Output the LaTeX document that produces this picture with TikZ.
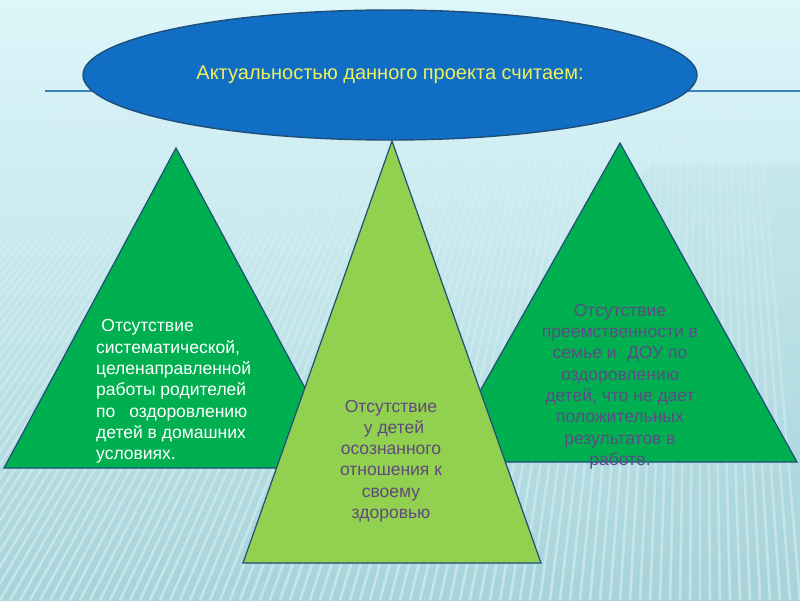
\documentclass[tikz,border=0pt]{standalone}
\usepackage{fontspec}
\setmainfont{Liberation Sans}
\usetikzlibrary{fadings,shapes.geometric}
\definecolor{bgtop}{HTML}{DDF6FA}
\definecolor{bgmid}{HTML}{D0EEF2}
\definecolor{bgbot}{HTML}{A6D4DA}
\definecolor{ellfill}{HTML}{106EC4}
\definecolor{edgeblue}{HTML}{1F4E79}
\definecolor{linblue}{HTML}{3A80C4}
\definecolor{dkgreen}{HTML}{00B050}
\definecolor{ltgreen}{HTML}{92D050}
\definecolor{ytext}{HTML}{F0F05A}
\definecolor{ptext}{HTML}{5F4B7B}
\definecolor{rtext}{HTML}{5E4A86}
\tikzset{
  tri/.style={draw=edgeblue, line width=1.2pt, line join=miter},
  bodytext/.style={inner sep=0pt, font=\fontsize{17.5}{21.3}\selectfont},
  stripe/.style={white, opacity=0.38, line width=2.6pt, path fading=north},
}
\begin{document}
\begin{tikzpicture}[x=1pt,y=-1pt]
\useasboundingbox (0,0) rectangle (800,600);
% background
\shade[top color=bgtop, middle color=bgmid, bottom color=bgbot] (0,0) rectangle (800,600);
\fill[bgbot, opacity=0.2, rounded corners=20pt] (640,165) rectangle (820,620);
\begin{scope}
\clip (0,40) rectangle (800,600);
\foreach \x in {-400,-390,...,800} {
  \draw[stripe] (\x,600) -- ({\x+(700-\x)*0.47},40);
}
\end{scope}
% horizontal line
\coordinate (hl) at (45,91);
\coordinate (hr) at (800,91);
\draw[linblue, line width=1.6pt] (hl) -- (hr);
% triangles
\coordinate (la) at (176,148);
\coordinate (lb) at (4,468);
\coordinate (lc) at (348,468);
\coordinate (ra) at (620,143);
\coordinate (rb) at (440,462);
\coordinate (rc) at (797,462);
\coordinate (ma) at (392,141);
\coordinate (mb) at (243,563);
\coordinate (mc) at (541,563);
\filldraw[tri, fill=dkgreen] (la) -- (lb) -- (lc) -- cycle;
\filldraw[tri, fill=dkgreen] (ra) -- (rb) -- (rc) -- cycle;
\filldraw[tri, fill=ltgreen] (ma) -- (mb) -- (mc) -- cycle;
% ellipse
\node[draw=edgeblue, line width=1.4pt, fill=ellfill, ellipse, minimum width=614pt, minimum height=130pt, inner sep=0pt] (ell) at (390,75) {};
\node[text=ytext, inner sep=0pt, font=\fontsize{20}{23}\selectfont] (etxt) at (390,75) {Актуальностью данного проекта считаем:};
% texts
\node[bodytext, text=white, align=left, anchor=west] (ltxt) at (96,391.5)
  {\hspace*{0.3em}Отсутствие\\систематической,\\целенаправленной\\работы родителей\\по\hspace{0.8em}оздоровлению\\детей в домашних\\условиях.};
\node[bodytext, text=ptext, align=center] (mtxt) at (391,461)
  {Отсутствие\\\hspace*{0.35em}у детей\\осознанного\\отношения к\\своему\\здоровью};
\node[bodytext, text=rtext, align=center] (rtxt) at (620,386.5)
  {Отсутствие\\преемственности в\\семье и\hspace{0.6em}ДОУ по\\оздоровлению\\детей, что не дает\\положительных\\результатов в\\работе.};
\end{tikzpicture}
\end{document}
